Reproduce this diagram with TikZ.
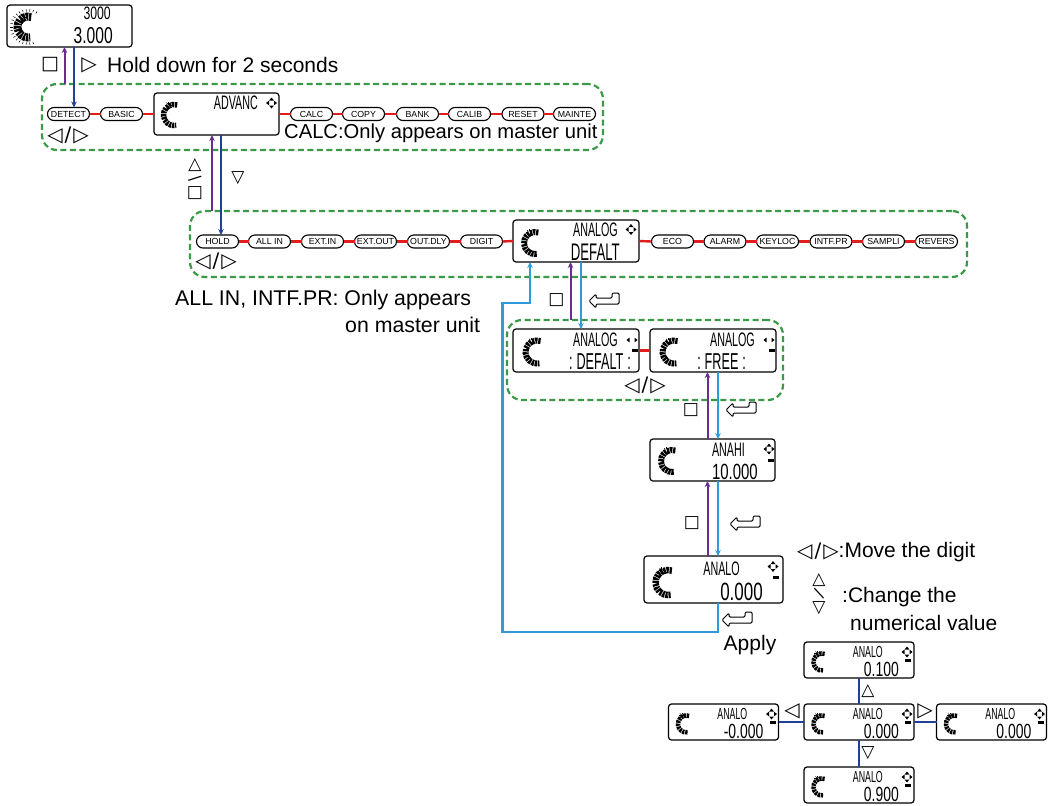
\documentclass[tikz,border=0pt]{standalone}
\usepackage{fontspec}
\usepackage{graphicx}
\setmainfont{Liberation Sans}
\newfontfamily\symf{DejaVu Sans}
\newfontfamily\lcdf[FakeStretch=0.55]{Liberation Sans}
\newfontfamily\lcdd[FakeStretch=0.68]{Liberation Sans}
\usetikzlibrary{calc,arrows.meta,shapes.misc}

\definecolor{pur}{HTML}{6A2C8E}
\definecolor{navy}{HTML}{1F3F98}
\definecolor{lblue}{HTML}{2F9BDC}
\definecolor{redl}{HTML}{E01E1E}
\definecolor{grn}{HTML}{3B9A47}

\newcommand\fsz[1]{\fontsize{#1}{#1}\selectfont}
\newcommand\lrkeys{◁\hspace{2pt}/\hspace{2pt}▷}

\tikzset{
 menu/.style={rounded rectangle, draw=black, line width=1.1pt, fill=white, minimum width=42pt, minimum height=13pt, inner sep=0pt, outer sep=0pt, font=\fsz{8.8}},
 lcd/.style={draw=black, line width=1.2pt, fill=white, rounded corners=3pt, inner sep=0pt, outer sep=0pt},
 grp/.style={draw=grn, line width=2.2pt, dash pattern=on 6pt off 3.5pt, rounded corners=15pt, inner sep=0pt, outer sep=0pt},
 redline/.style={draw=redl, line width=2.4pt},
 tip/.style={-{Stealth[length=6pt,width=5.5pt]}},
 parr/.style={tip, draw=pur, line width=2pt},
 narr/.style={tip, draw=navy, line width=2pt},
 barr/.style={tip, draw=lblue, line width=2.2pt},
 nline/.style={draw=navy, line width=2.4pt},
 txt/.style={inner sep=0pt, font=\fsz{21}},
 sym/.style={inner sep=0pt, font=\symf\fsz{17}},
 lrsym/.style={inner sep=0pt, font=\symf\fsz{20}},
 lt/.style={inner sep=0pt, anchor=east, font=\lcdf\fsz{19.5}},
 ld/.style={inner sep=0pt, anchor=east, font=\lcdd\fsz{24}},
 retkey/.pic={\draw[line width=1pt, rounded corners=1.2pt, fill=white] (-15,1) -- (-8,-6) -- (-8,-2) -- (8,-2) -- (8,-7) -- (15,-7) -- (15,4) -- (-8,4) -- (-8,8) -- cycle;},
}

% gauge: node, dx, dy, radius, width
\newcommand\gauge[5]{%
 \coordinate (#1gc) at ($(#1.west)+(#2,#3)$);
 \draw[line width=#5pt, dash pattern=on 2.3pt off 0.8pt] (#1gc) ++(-72:#4) arc[start angle=-72, end angle=-282, radius=#4];
 \foreach \a in {0,45,...,315}{\draw[line width=0.5pt] ($(#1gc)+(-118:{#4+1})$) ++(\a:1.3) -- ++(\a:1.8);}
}
\newcommand\dpad[2]{%
 \coordinate (#1) at #2;
 \fill (#1) ++(0,-5.5) -- ++(-2.4,3) -- ++(4.8,0) -- cycle;
 \fill (#1) ++(0,5.5) -- ++(-2.4,-3) -- ++(4.8,0) -- cycle;
 \fill (#1) ++(-5.5,0) -- ++(3,-2.4) -- ++(0,4.8) -- cycle;
 \fill (#1) ++(5.5,0) -- ++(-3,-2.4) -- ++(0,4.8) -- cycle;
}
\newcommand\lrpad[2]{%
 \coordinate (#1) at #2;
 \fill (#1) ++(-5.5,0) -- ++(3,-2.4) -- ++(0,4.8) -- cycle;
 \fill (#1) ++(5.5,0) -- ++(-3,-2.4) -- ++(0,4.8) -- cycle;
}
\newcommand\batt[1]{\fill #1 ++(-3,-1.5) rectangle ++(6,3);}
\newcommand\clus[4]{%
 \node[lcd, minimum width=110, minimum height=36] (#1) at (#2,#3) {};
 \gauge{#1}{18}{2}{8.5}{4.5}
 \node[lt, font=\lcdf\fsz{16}] (#1t) at ($(#1.north west)+(79,9.5)$) {ANALO};
 \node[ld, font=\lcdd\fsz{20.5}] (#1v) at ($(#1.north west)+(95,27.5)$) {#4};
 \dpad{#1dp}{($(#1.north west)+(103,10)$)}
 \batt{($(#1.north west)+(104,18.5)$)}
}

\begin{document}
\begin{tikzpicture}[x=1pt,y=-1pt]
\useasboundingbox (0,0) rectangle (1050,806);
\fill[white] (0,0) rectangle (1050,806);

% groups
\node[grp, minimum width=561, minimum height=66] (grp1) at (322.5,117) {};
\node[grp, minimum width=777, minimum height=66] (grp2) at (578.5,244) {};
\node[grp, minimum width=276, minimum height=80] (grp3) at (645,360) {};

% main LCD
\node[lcd, minimum width=125, minimum height=42] (lcd0) at (69.5,26) {};
\gauge{lcd0}{21}{1}{10.5}{8}
\foreach \a in {-60,-72,...,-290}{\draw[line width=0.5pt] ($(lcd0gc)+(\a:15.5)$) -- ($(lcd0gc)+(\a:18)$);}
\node[ld, font=\lcdd\fsz{18}] (lcd0t) at (111,13) {3000};
\node[ld, font=\lcdd\fsz{23}] (lcd0b) at (113,35.5) {3.000};

% row 1
\node[menu] (detect) at (68.5,114) {DETECT};
\node[menu] (basic) at (121.5,114) {BASIC};
\node[lcd, minimum width=125, minimum height=42] (advanc) at (216.5,114) {};
\gauge{advanc}{20}{1}{10.5}{5.5}
\node[lt] (advT) at (258,103) {ADVANC};
\dpad{advdp}{(271.5,103)}
\node[menu] (calc) at (311.5,114) {CALC};
\node[menu] (copy) at (363.5,114) {COPY};
\node[menu] (bank) at (417.5,114) {BANK};
\node[menu] (calib) at (469.5,114) {CALIB};
\node[menu] (reset) at (523,114) {RESET};
\node[menu] (mainte) at (574.5,114) {MAINTE};
\foreach \a/\b in {detect/basic,basic/advanc,advanc/calc,calc/copy,copy/bank,bank/calib,calib/reset,reset/mainte}
  \draw[redline] (\a.east) -- (\b.west);

% row 2
\node[menu] (hold) at (217.5,241.5) {HOLD};
\node[menu] (allin) at (269.5,241.5) {ALL IN};
\node[menu] (extin) at (322.5,241.5) {EXT.IN};
\node[menu] (extout) at (375.5,241.5) {EXT.OUT};
\node[menu] (outdly) at (428.5,241.5) {OUT.DLY};
\node[menu] (digit) at (481.5,241.5) {DIGIT};
\node[lcd, minimum width=126, minimum height=42] (analog) at (576,241) {};
\gauge{analog}{22}{2}{11}{6}
\node[lt] (anaT) at (618,229.5) {ANALOG};
\node[lt, font=\lcdf\fsz{24}] (anaB) at (620,252.5) {DEFALT};
\dpad{anadp}{(631,229.5)}
\node[menu] (eco) at (672.5,241.5) {ECO};
\node[menu] (alarm) at (725,241.5) {ALARM};
\node[menu] (keyloc) at (777.5,241.5) {KEYLOC};
\node[menu] (intfpr) at (831,241.5) {INTF.PR};
\node[menu] (sampli) at (883.5,241.5) {SAMPLI};
\node[menu] (revers) at (936.5,241.5) {REVERS};
\foreach \a/\b in {hold/allin,allin/extin,extin/extout,extout/outdly,outdly/digit,digit/analog,analog/eco,eco/alarm,alarm/keyloc,keyloc/intfpr,intfpr/sampli,sampli/revers}
  \draw[redline] (\a.east) -- (\b.west);

% sub menu
\node[lcd, minimum width=126, minimum height=43] (defalt) at (576,350.5) {};
\gauge{defalt}{24}{1.5}{11.5}{6}
\node[lt] (defT) at (618,339.5) {ANALOG};
\node[lt, font=\lcdf\fsz{23}] (defB) at (631,361.5) {:\,DEFALT\,:};
\lrpad{defdp}{(632,340)}
\batt{(635,350)}
\node[lcd, minimum width=126, minimum height=43] (free) at (713,350.5) {};
\gauge{free}{24}{1.5}{11.5}{6}
\node[lt] (freT) at (755,339.5) {ANALOG};
\node[lt, font=\lcdf\fsz{23}] (freB) at (746,361.5) {:\,FREE\,:};
\lrpad{fredp}{(769,340)}
\batt{(772,350)}
\draw[redline] (defalt.east) -- (free.west);

% ANAHI / ANALO
\node[lcd, minimum width=125, minimum height=42] (anahi) at (712.5,460) {};
\gauge{anahi}{22}{1}{11}{6}
\node[lt] (ahT) at (745,449.5) {ANAHI};
\node[ld, font=\lcdd\fsz{22}] (ahB) at (758,471.5) {10.000};
\dpad{ahdp}{(769,449)}
\batt{(771,460)}
\node[lcd, minimum width=139, minimum height=47] (analo) at (713.5,579.5) {};
\gauge{analo}{24}{3}{12.5}{6.5}
\node[lt, font=\lcdf\fsz{19.5}] (alT) at (740,568.5) {ANALO};
\node[ld, font=\lcdd\fsz{25}] (alB) at (763,591.5) {0.000};
\dpad{aldp}{(773,566.5)}
\batt{(775.5,577)}

% cluster
\clus{ctop}{859}{660}{0.100}
\clus{cmid}{859}{722}{0.000}
\clus{cleft}{723.5}{722}{-0.000}
\clus{cright}{991.5}{722}{0.000}
\clus{cbot}{859}{785}{0.900}
\draw[nline] (ctop.south) -- (cmid.north);
\draw[nline] (cmid.south) -- (cbot.north);
\draw[nline] (cleft.east) -- (cmid.west);
\draw[nline] (cmid.east) -- (cright.west);

% arrows
\coordinate (xa) at (64.5,0);
\coordinate (xb) at (74,0);
\coordinate (xc) at (212,0);
\coordinate (xd) at (221,0);
\coordinate (xe) at (570.5,0);
\coordinate (xf) at (581,0);
\coordinate (xg) at (707.5,0);
\coordinate (xh) at (718,0);
\coordinate (ret1) at (502.5,632);
\coordinate (ret2) at (530,303);
\draw[parr] (grp1.north -| xa) -- (lcd0.south -| xa);
\draw[narr] (lcd0.south -| xb) -- (detect.north -| xb);
\draw[parr] (grp2.north -| xc) -- (advanc.south -| xc);
\draw[narr] (advanc.south -| xd) -- (hold.north -| xd);
\draw[parr] (grp3.north -| xe) -- (analog.south -| xe);
\draw[barr] (analog.south -| xf) -- (defalt.north -| xf);
\draw[parr] (anahi.north -| xg) -- (free.south -| xg);
\draw[barr] (free.south -| xh) -- (anahi.north -| xh);
\draw[parr] (analo.north -| xg) -- (anahi.south -| xg);
\draw[barr] (anahi.south -| xh) -- (analo.north -| xh);
\draw[barr] (analo.south -| xh) |- (ret1) |- (ret2) -- (analog.south -| ret2);

% labels
\node[sym, font=\symf\fsz{19}] (k1) at (50,65) {□};
\node[lrsym] (k2) at (89,65) {▷};
\node[txt, anchor=west] (t1) at (107,65) {Hold down for 2 seconds};
\node[lrsym] (lr1) at (68,135) {\lrkeys};
\node[txt, anchor=west, font=\fsz{20.2}] (t2) at (284,133) {CALC:Only appears on master unit};
\node[sym] (ud1a) at (195,165) {△};
\node[sym, font=\symf\fsz{16}] (ud1b) at (195,179) {\rotatebox{-55}{/}};
\node[sym] (ud1c) at (195,193) {□};
\node[sym] (dn1) at (238,178) {▽};
\node[lrsym] (lr2) at (216,261.5) {\lrkeys};
\node[txt, anchor=west, font=\fsz{21.3}] (t3) at (175,300) {ALL IN, INTF.PR: Only appears};
\node[txt, anchor=west, font=\fsz{21.3}] (t4) at (345,325) {on master unit};
\node[sym] (k3) at (556.5,300) {□};
\pic at (604,300) {retkey};
\node[lrsym] (lr3) at (645,385) {\lrkeys};
\node[sym] (k4) at (691,410) {□};
\pic at (741,409) {retkey};
\node[sym] (k5) at (692,523) {□};
\pic at (745,523) {retkey};
\pic at (737,619) {retkey};
\node[txt] (t5) at (750,645) {Apply};
\node[txt, anchor=west] (t6) at (797,552) {{\symf\fsz{20}\lrkeys}:Move the digit};
\node[sym] (ud2a) at (819,580) {△};
\node[sym, font=\symf\fsz{16}] (ud2b) at (819,594) {\rotatebox{60}{/}};
\node[sym] (ud2c) at (819,608) {▽};
\node[txt, anchor=west] (t7) at (842,597) {:Change the};
\node[txt, anchor=west] (t8) at (850,623) {numerical value};
\node[sym] (cu) at (868,691) {△};
\node[sym] (cd) at (868,753) {▽};
\node[lrsym] (cl) at (792,711) {◁};
\node[lrsym] (cr) at (925,711) {▷};
\end{tikzpicture}
\end{document}
